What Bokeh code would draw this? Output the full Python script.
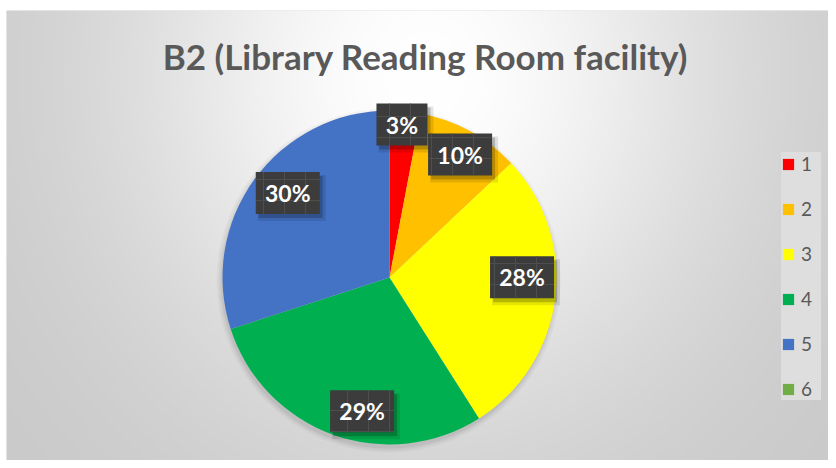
import numpy as np
from bokeh.plotting import figure
from bokeh.models import ColumnDataSource, Range1d, Legend, LegendItem
from bokeh.core.properties import value
from bokeh.embed import file_html
from bokeh.resources import INLINE

# ---- data ----
categories = ["1", "2", "3", "4", "5", "6"]
percents = [3, 10, 28, 29, 30, 0]
colors = ["#FF0000", "#FFC000", "#FFFF00", "#00B050", "#4472C4", "#70AD47"]
title_text = "B2 (Library Reading Room facility)"

# ---- layout / style (data units = page px, y measured up from 468) ----
W, H = 828, 460
LB, TB = 6, 10               # white strips at left / top
PH = 468
CX, CY = 389, PH - 277       # pie centre
R = 167
label_radius = [0.92, 0.84, 0.80, 0.82, 0.79, 0.8]
label_nudge = [(-2, 0), (3, 0), (0, 17), (19, -5), (5, 7), (0, 0)]
FONT = "Lato"

vals = np.array(percents, dtype=float)
frac = vals / vals.sum()
cum_end = np.cumsum(frac)
cum_start = cum_end - frac
start_angle = np.where(frac > 0, np.pi / 2 - 2 * np.pi * cum_end, np.nan)
end_angle = np.where(frac > 0, np.pi / 2 - 2 * np.pi * cum_start, np.nan)
mid = (cum_start + cum_end) / 2 * 2 * np.pi  # clockwise from top

src = ColumnDataSource(dict(cat=categories, pct=percents, color=colors,
                            start=start_angle, end=end_angle))

p = figure(width=W, height=H, output_backend="svg", toolbar_location=None,
           x_range=Range1d(LB, W), y_range=Range1d(PH - H, PH - TB),
           min_border=0, min_border_left=LB, min_border_top=TB,
           min_border_right=0, min_border_bottom=0, outline_line_color=None)
p.axis.visible = False
p.grid.visible = False
p.background_fill_color = "#d8d8d8"
p.border_fill_color = "white"

# background radial gradient
gw, gh = (W - LB) // 2, (H - TB) // 2
xs = np.linspace(LB, W, gw)
ys_page = np.linspace(H, TB, gh)  # row 0 = bottom
X, Y = np.meshgrid(xs, ys_page)
d = np.sqrt(((X - 425) / 480) ** 2 + ((Y - 75) / 520) ** 2)
v = 255 - 55 * (1 - np.exp(-2.5 * d ** 2))
v = np.clip(v, 0, 255).astype(np.uint32)
img = (255 << 24) | (v << 16) | (v << 8) | v
p.image_rgba(image=[img.astype(np.uint32)], x=LB, y=PH - H, dw=W - LB, dh=H - TB)

# pie shadow
for k, a in enumerate([0.05, 0.04, 0.03]):
    p.circle(x=CX - 1, y=CY - 3, radius=R + 1 + 2 * k, fill_color="black",
             fill_alpha=a, line_color=None)

wr = p.wedge(x=CX, y=CY, radius=R, start_angle="start", end_angle="end",
             fill_color="color", line_color=None, source=src)

# data labels
lx, ly, lt, bw = [], [], [], []
for i, pc in enumerate(percents):
    if pc <= 0:
        continue
    rr = R * label_radius[i]
    lx.append(CX + rr * np.sin(mid[i]) + label_nudge[i][0])
    ly.append(CY + rr * np.cos(mid[i]) + label_nudge[i][1])
    t = f"{pc}%"
    lt.append(t)
    bw.append(51 if len(t) == 2 else 64)
lsrc = ColumnDataSource(dict(x=lx, y=ly, t=lt, w=bw,
                             sx=[a + 3 for a in lx], sy=[b - 4 for b in ly],
                             sx2=[a + 4 for a in lx], sy2=[b - 5 for b in ly],
                             w2=[a + 4 for a in bw]))
p.rect(x="sx2", y="sy2", width="w2", height=46, width_units="screen",
       height_units="screen", fill_color="black", fill_alpha=0.1,
       line_color=None, source=lsrc)
p.rect(x="sx", y="sy", width="w", height=42, width_units="screen",
       height_units="screen", fill_color="black", fill_alpha=0.2,
       line_color=None, source=lsrc)
p.rect(x="x", y="y", width="w", height=42, width_units="screen",
       height_units="screen", fill_color="#3c3c3c", line_color=None,
       hatch_pattern="cross", hatch_color="#4e4e4e", hatch_scale=21,
       hatch_weight=1, source=lsrc)
p.text(x="x", y="y", text="t", source=lsrc, text_color="white",
       text_font=value(FONT), text_font_style="bold", text_font_size="23px",
       text_align="center", text_baseline="middle")

# title
p.text(x=[425], y=[PH - 55], text=[title_text], text_color="#595959",
       text_font=value(FONT), text_font_style="bold", text_font_size="35px",
       text_align="center", text_baseline="middle")

# legend
items = [LegendItem(label=c, renderers=[wr], index=i) for i, c in enumerate(categories)]
legend = Legend(items=items, location=(781 - LB, 60),
                glyph_width=14, glyph_height=14, label_height=20,
                label_standoff=6, spacing=22, padding=13, margin=0,
                label_text_font=FONT, label_text_font_size="19px",
                label_text_color="#595959", border_line_color=None,
                background_fill_color="#dedede", background_fill_alpha=1.0)
p.add_layout(legend)

open("out.html", "w").write(file_html(p, INLINE))
